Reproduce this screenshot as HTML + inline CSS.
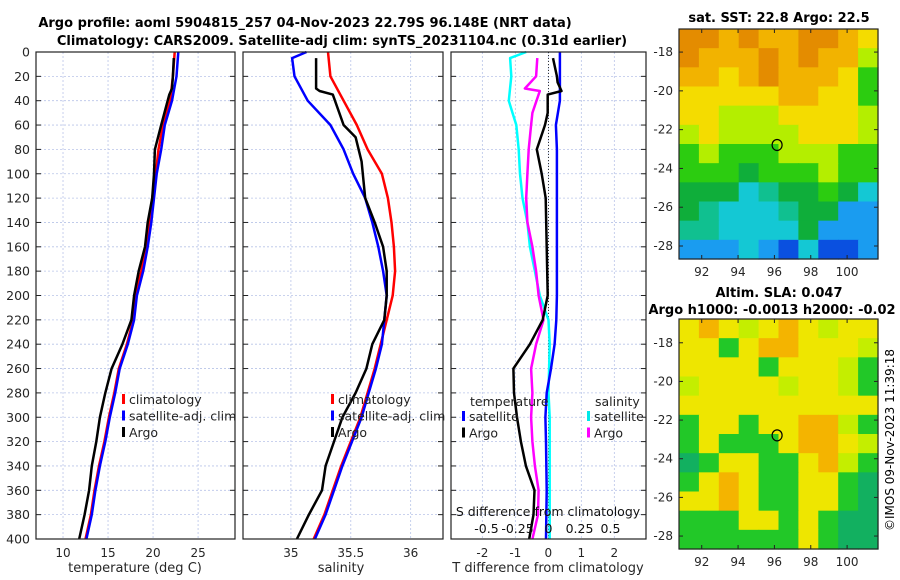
<!DOCTYPE html>
<html><head><meta charset="utf-8"><style>
html,body{margin:0;padding:0;background:#fff;}
svg{display:block;font-family:"DejaVu Sans","Liberation Sans",sans-serif;}
</style></head><body>
<svg id="fig" width="900" height="580" viewBox="0 0 900 580">
<text x="305" y="27" text-anchor="middle" font-size="13" font-weight="bold">Argo profile: aoml 5904815_257 04-Nov-2023 22.79S 96.148E (NRT data)</text>
<text x="342" y="45" text-anchor="middle" font-size="13" font-weight="bold">Climatology: CARS2009. Satellite-adj clim: synTS_20231104.nc (0.31d earlier)</text>
<g id="g"></g>
<text x="779" y="22" text-anchor="middle" font-size="13" font-weight="bold">sat. SST: 22.8 Argo: 22.5</text>
<text x="779" y="297" text-anchor="middle" font-size="13" font-weight="bold">Altim. SLA: 0.047</text>
<text x="772" y="314" text-anchor="middle" font-size="13" font-weight="bold">Argo h1000: -0.0013 h2000: -0.02</text>
<text transform="translate(894,440) rotate(-90)" text-anchor="middle" font-size="12">©IMOS 09-Nov-2023 11:39:18</text>
</svg>
<script>
const depths=[0,20,40,60,80,100,120,140,160,180,200,220,240,260,280,300,320,340,360,380,400];
const tClim=[22.4,22.2,21.9,21.1,20.6,20.3,19.9,19.6,19.2,18.7,18.0,17.8,17.1,16.2,15.7,15.1,14.6,14.0,13.5,13.1,12.5];
const tSat=[22.8,22.6,22.1,21.3,20.9,20.4,20.1,19.8,19.4,18.9,18.2,17.9,17.2,16.3,15.8,15.2,14.7,14.1,13.6,13.2,12.6];
const argoDepths=[5,20,30,35,60,80,100,120,140,160,180,200,220,240,260,280,300,320,340,360,380,400];
const tArgo=[22.3,22.2,22.1,21.8,20.9,20.2,20.1,19.9,19.4,19.1,18.4,17.9,17.6,16.6,15.4,14.7,14.1,13.7,13.2,12.9,12.4,11.8];
const sClim=[35.31,35.33,35.44,35.55,35.64,35.76,35.81,35.84,35.86,35.87,35.85,35.80,35.75,35.70,35.64,35.58,35.50,35.42,35.35,35.28,35.19];
const satSDepths=[0,5,20,40,60,80,100,120,140,160,180,200,220,240,260,280,300,320,340,360,380,400];
const sSat=[35.13,35.01,35.03,35.14,35.33,35.44,35.52,35.62,35.68,35.73,35.77,35.80,35.78,35.76,35.71,35.65,35.59,35.51,35.43,35.36,35.29,35.20];
const argoSDepths=[5,30,32,35,60,70,90,120,140,160,180,200,220,240,260,280,300,320,340,360,380,400];
const sArgo=[35.21,35.21,35.24,35.35,35.44,35.54,35.59,35.62,35.70,35.77,35.80,35.80,35.78,35.68,35.63,35.54,35.43,35.36,35.29,35.26,35.15,35.05];
const dT1Depths=[0,40,60,80,100,120,200,220,240,260,280,300,320,360,400];
const dTSat=[0.35,0.35,0.23,0.26,0.26,0.26,0.26,0.24,0.19,0.08,-0.05,-0.09,-0.07,-0.05,-0.07];
const dT2Depths=[5,20,25,32,35,50,60,80,100,120,160,200,220,240,260,280,300,320,340,360,380,400];
const dTArgo=[0.14,0.26,0.28,0.4,-0.02,-0.02,-0.1,-0.35,-0.2,-0.08,-0.05,-0.02,-0.17,-0.56,-1.06,-1.04,-0.95,-0.83,-0.68,-0.42,-0.45,-0.58];
const dS1Depths=[0,5,20,40,50,60,80,100,120,140,160,180,200,220,240,280,300,400];
const dSSat=[-0.18,-0.31,-0.3,-0.32,-0.29,-0.26,-0.24,-0.23,-0.21,-0.17,-0.15,-0.11,-0.07,0,0.01,0,0.01,0.01];
const dS2Depths=[5,20,30,32,50,60,80,100,120,140,160,180,200,220,240,260,280,300,320,340,360,380,400];
const dSArgo=[-0.09,-0.1,-0.19,-0.07,-0.13,-0.14,-0.16,-0.17,-0.18,-0.17,-0.13,-0.1,-0.08,-0.04,-0.1,-0.14,-0.13,-0.14,-0.13,-0.11,-0.08,-0.085,-0.13];
const depthTicks=[0,20,40,60,80,100,120,140,160,180,200,220,240,260,280,300,320,340,360,380,400];
const tTicks=[10,15,20,25];
const sTicks=[35,35.5,36];
const dTTicks=[-2,-1,0,1,2];
const dSTicks=[-0.5,-0.25,0,0.25,0.5];
const dSTickLabels=["-0.5","-0.25","0","0.25","0.5"];
const sstPalette={O:"#e48c00",o:"#f2b300",y:"#f4dc00",l:"#b4ee00",g:"#2ccc10",G:"#0fae3a",t:"#10c090",c:"#14c8d4",b:"#1a9cf0",B:"#0a50e0"};
const sstGrid=["OOoOooOOoy","OoooOoOool","ooyoOoooyg","yyyyyooyyg","yylllyyyyl","lyllllyyyl","glggglllgg","gggGggglgg","GGGctGGgGc","GtccctGGbb","ttccccGbbb","bbbcbBcBBb"];
const slaPalette={y:"#eee600",l:"#c4ee00",o:"#f4b400",g:"#22c828",G:"#12b060"};
const slaGrid=["yoylyoylyy","yygyooyyyl","yyyygyyylg","lyyyylyylg","yyyyyyyyyy","gyygyyoolg","gygggyooyl","Ggyyggyolg","gyoyggyygG","yyoyggyygG","gggyygygGG","ggggggygGG"];
const lonTicks=[92,94,96,98,100];
const latTicks=[-18,-20,-22,-24,-26,-28];

const NS="http://www.w3.org/2000/svg";
const root=document.getElementById('g');
function mk(tag,attrs,parent){const e=document.createElementNS(NS,tag);for(const k in attrs)e.setAttribute(k,attrs[k]);(parent||root).appendChild(e);return e;}
const Y0=52,Y1=539;
const yD=d=>Y0+(d/400)*(Y1-Y0);
const panels=[
 {x0:36,x1:235,vmin:7,vmax:29.1,name:'temperature'},
 {x0:243,x1:443,vmin:34.6,vmax:36.27,name:'salinity'},
 {x0:451,x1:646,vmin:-2.95,vmax:2.96,name:'difference'}];
const sx=(p,v)=>p.x0+(v-p.vmin)/(p.vmax-p.vmin)*(p.x1-p.x0);
const dSx=v=>548.5+v*124;
function grid(p,xt){
  depthTicks.forEach(d=>{const l=mk('line',{x1:p.x0,x2:p.x1,y1:yD(d),y2:yD(d),stroke:'#b8c4e8','stroke-width':0.8,'stroke-dasharray':'2,2'});
  
  mk('line',{x1:p.x0,x2:p.x0+5,y1:yD(d),y2:yD(d),stroke:'#222'});mk('line',{x1:p.x1-5,x2:p.x1,y1:yD(d),y2:yD(d),stroke:'#222'});});
  xt.forEach(v=>{const x=sx(p,v);const l=mk('line',{x1:x,x2:x,y1:Y0,y2:Y1,stroke:'#b8c4e8','stroke-width':0.8,'stroke-dasharray':'2,2'});
  
  const t=mk('text',{x:x,y:Y1+18,'text-anchor':'middle','font-size':12,fill:'#262626'});t.textContent=v;
  });
}
function box(p){const r=mk('rect',{x:p.x0,y:Y0,width:p.x1-p.x0,height:Y1-Y0,fill:'none',stroke:'#222','stroke-width':1.2});
 }
function line(xs,ds,fx,color,name){const pts=xs.map((v,i)=>fx(v).toFixed(1)+','+yD(ds[i]).toFixed(1)).join(' ');
 const e=mk('polyline',{points:pts,fill:'none',stroke:color,'stroke-width':2.5,'stroke-linejoin':'round'});
 }
function legend(x,y,items){items.forEach((it,i)=>{const yy=y+i*16.5;
 mk('rect',{x:x,y:yy-8,width:3,height:10,fill:it[1]});
 const t=mk('text',{x:x+7,y:yy+2,'font-size':12.5,fill:'#222'});t.textContent=it[0];
 });}
let p=panels[0];grid(p,tTicks);
depthTicks.forEach(d=>{const t=mk('text',{x:30,y:yD(d)+4.5,'text-anchor':'end','font-size':12.5,fill:'#262626'});t.textContent=d;
 });
line(tClim,depths,v=>sx(panels[0],v),'#ff0000','temp-climatology-line');
line(tSat,depths,v=>sx(panels[0],v),'#0000ff','temp-satellite-line');
line(tArgo,argoDepths,v=>sx(panels[0],v),'#000','temp-argo-line');
box(p);legend(122,402,[['climatology','#ff0000'],['satellite-adj. clim','#0000ff'],['Argo','#000']]);
let t=mk('text',{x:135,y:572,'text-anchor':'middle','font-size':13,fill:'#262626'});t.textContent='temperature (deg C)';

p=panels[1];grid(p,sTicks);
line(sClim,depths,v=>sx(panels[1],v),'#ff0000','sal-climatology-line');
line(sSat,satSDepths,v=>sx(panels[1],v),'#0000ff','sal-satellite-line');
line(sArgo,argoSDepths,v=>sx(panels[1],v),'#000','sal-argo-line');
box(p);legend(331,402,[['climatology','#ff0000'],['satellite-adj. clim','#0000ff'],['Argo','#000']]);
t=mk('text',{x:341,y:572,'text-anchor':'middle','font-size':13,fill:'#262626'});t.textContent='salinity';

p=panels[2];grid(p,dTTicks);
mk('line',{x1:548.5,x2:548.5,y1:Y0,y2:Y1,stroke:'#333','stroke-dasharray':'1,2'});
line(dSSat,dS1Depths,dSx,'#00ffff','sdiff-satellite-line');
line(dSArgo,dS2Depths,dSx,'#ff00ff','sdiff-argo-line');
line(dTSat,dT1Depths,v=>sx(panels[2],v),'#0000ff','tdiff-satellite-line');
line(dTArgo,dT2Depths,v=>sx(panels[2],v),'#000','tdiff-argo-line');
box(p);
dSTicks.forEach((v,i)=>{const tt=mk('text',{x:dSx(v),y:533,'text-anchor':'middle','font-size':12.5,fill:'#111'});tt.textContent=dSTickLabels[i];
 });
t=mk('text',{x:548,y:516,'text-anchor':'middle','font-size':12.5,fill:'#111'});t.textContent='S difference from climatology';

t=mk('text',{x:548,y:572,'text-anchor':'middle','font-size':13,fill:'#262626'});t.textContent='T difference from climatology';

t=mk('text',{x:470,y:406,'font-size':12.5,fill:'#222'});t.textContent='temperature';

t=mk('text',{x:595,y:406,'font-size':12.5,fill:'#222'});t.textContent='salinity';

legend(462,419,[['satellite','#0000ff'],['Argo','#000']]);
legend(587,419,[['satellite','#00e8e8'],['Argo','#ff00ff']]);
function map(y0,y1,latA,latB,gridRows,pal,name){
 const x0=679,x1=878,lonA=90.75,lonB=101.7;
 const g=mk('g',{});
 const nr=gridRows.length,nc=gridRows[0].length,cw=(x1-x0)/nc,ch=(y1-y0)/nr;
 gridRows.forEach((row,r)=>{[...row].forEach((c,k)=>{mk('rect',{x:x0+k*cw,y:y0+r*ch,width:cw+0.6,height:ch+0.6,fill:pal[c]},g);});});
 const lx=v=>x0+(v-lonA)/(lonB-lonA)*(x1-x0), ly=v=>y0+(latA-v)/(latA-latB)*(y1-y0);
 mk('rect',{x:x0,y:y0,width:x1-x0,height:y1-y0,fill:'none',stroke:'#222','stroke-width':1.2});
 lonTicks.forEach(v=>{mk('line',{x1:lx(v),x2:lx(v),y1:y1,y2:y1-4,stroke:'#222'});mk('line',{x1:lx(v),x2:lx(v),y1:y0,y2:y0+4,stroke:'#222'});
  const tt=mk('text',{x:lx(v),y:y1+17,'text-anchor':'middle','font-size':12,fill:'#262626'});tt.textContent=v;
  });
 latTicks.forEach(v=>{mk('line',{x1:x0,x2:x0+4,y1:ly(v),y2:ly(v),stroke:'#222'});mk('line',{x1:x1,x2:x1-4,y1:ly(v),y2:ly(v),stroke:'#222'});
  const tt=mk('text',{x:x0-6,y:ly(v)+4,'text-anchor':'end','font-size':12,fill:'#262626'});tt.textContent=v;
  });
 const c=mk('ellipse',{cx:lx(96.148),cy:ly(-22.79),rx:5,ry:5.5,fill:'none',stroke:'#000','stroke-width':1.2});
 
}
map(29,259,-16.81,-28.67,sstGrid,sstPalette,'sst-map');
map(319,549,-16.77,-28.67,slaGrid,slaPalette,'sla-map');
</script>
</body></html>
